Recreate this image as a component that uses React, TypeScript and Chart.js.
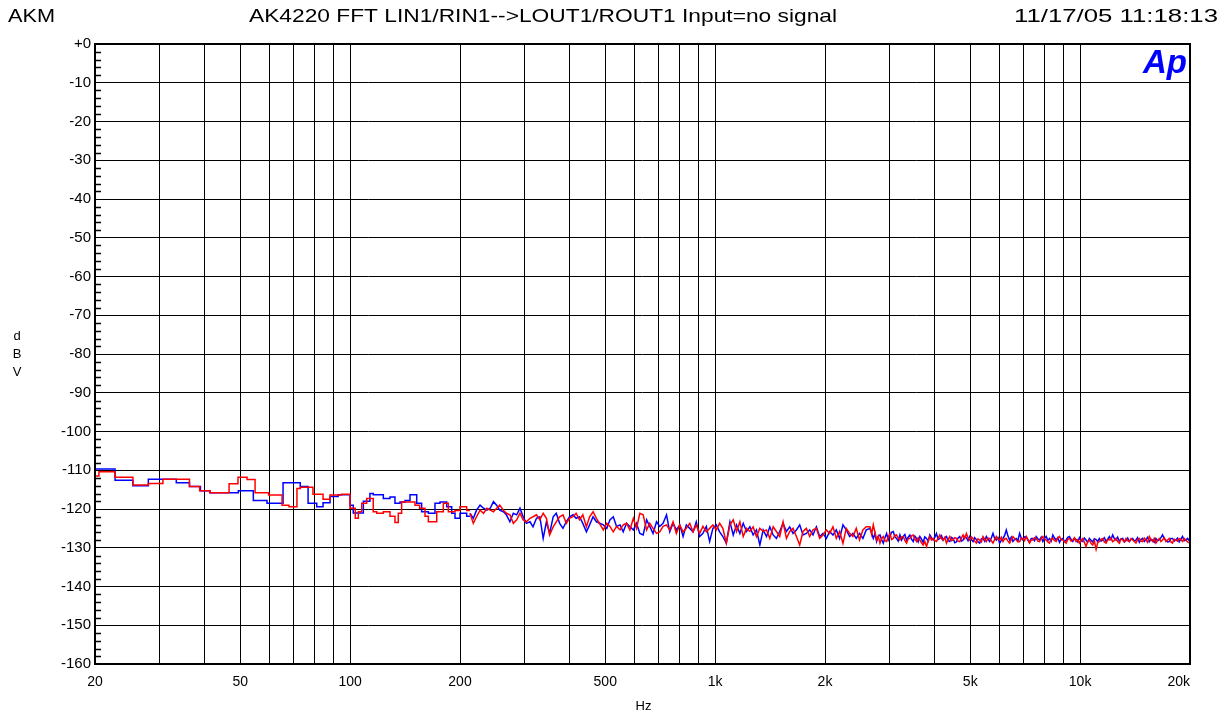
import { useEffect, useRef } from 'react';
import { Chart, registerables } from 'chart.js';

Chart.register(...registerables);

const titleLeft = 'AKM';
const titleMain = 'AK4220 FFT LIN1/RIN1-->LOUT1/ROUT1 Input=no signal';
const titleRight = '11/17/05 11:18:13';
const yAxisLetters = ['d', 'B', 'V'];
const xAxisTitle = 'Hz';
const logoText = 'Ap';

const xGridValues = [20, 30, 40, 50, 60, 70, 80, 90, 100, 200, 300, 400, 500, 600, 700, 800, 900, 1000, 2000, 3000, 4000, 5000, 6000, 7000, 8000, 9000, 10000, 20000];
const xLabelValues = [20, 50, 100, 200, 500, 1000, 2000, 5000, 10000, 20000];
const xLabelTexts = ['20', '50', '100', '200', '500', '1k', '2k', '5k', '10k', '20k'];
const yTickValues = [0, -10, -20, -30, -40, -50, -60, -70, -80, -90, -100, -110, -120, -130, -140, -150, -160];
const yMinorValues = [-2, -4, -6, -8, -12, -14, -16, -18, -22, -24, -26, -28, -32, -34, -36, -38, -42, -44, -46, -48, -52, -54, -56, -58, -62, -64, -66, -68, -72, -74, -76, -78, -82, -84, -86, -88, -92, -94, -96, -98, -102, -104, -106, -108, -112, -114, -116, -118, -122, -124, -126, -128, -132, -134, -136, -138, -142, -144, -146, -148, -152, -154, -156, -158];

// Low-frequency part (level start frequencies, stepped)
const blueLowFreq = [20, 22.7, 25.4, 28.0, 33.4, 36.3, 38.9, 41.3, 49.4, 54.3, 59.2, 65.5, 73.0, 76.7, 81, 84.3, 88.1, 92.7, 100, 102, 108.7, 113.3, 115.7, 123.3, 128.6, 132.7, 137, 141.4, 145.9, 152.2, 157, 163.8, 170.8, 176.3, 183.9, 189.8, 193.8, 200, 208.6, 213];
const blueLowDb = [-109.7, -112.6, -114.0, -112.3, -113.2, -114.2, -115.3, -115.8, -115.3, -117.8, -118.5, -113.2, -114.2, -118.5, -119.4, -118.4, -116.8, -116.3, -119.0, -121.0, -118.0, -116.0, -116.3, -117.3, -116.9, -118.5, -118.2, -117.8, -116.3, -118.5, -120.7, -121.1, -118.5, -118.2, -119.4, -121.1, -122.4, -121.1, -121.9, -121.9];

const redLowFreq = [20, 20.5, 22.7, 25.4, 28.0, 30.7, 36.3, 38.7, 41.3, 46.6, 49.3, 52.2, 54.9, 59.8, 65.1, 68.0, 71.5, 73.0, 79.1, 84.3, 88.1, 94.7, 99.9, 103.3, 105.3, 107.6, 111, 115.7, 118.3, 123.3, 128.6, 132.7, 135.5, 138.4, 150.6, 155, 160.4, 163.8, 172.7, 180, 185.8, 193.8, 200, 208.6, 213];
const redLowDb = [-111.5, -110.4, -111.8, -113.8, -113.4, -112.3, -114.2, -115.3, -115.8, -113.5, -111.8, -112.4, -115.8, -116.4, -119.0, -119.4, -114.7, -114.4, -116.2, -117.5, -116.4, -116.2, -119.8, -122.4, -120.7, -118.5, -117.3, -120.7, -121.1, -120.7, -121.9, -123.5, -121.1, -118.2, -119.0, -119.8, -121.9, -123.3, -120.7, -118.5, -120.7, -120.4, -119.4, -120.4, -120.4];

// Mid-frequency noisy part, 213 Hz .. 2.6 kHz (shared frequencies)
const midFreq = [
  213, 217.5, 222, 227, 232, 237, 242, 247, 252, 257, 263, 268, 274, 280, 286, 292, 298, 304, 311, 317, 324, 331, 338, 345, 352, 360, 367, 375, 383, 391, 399, 408, 416, 425, 434, 444, 453, 463, 473,
  494, 505, 515, 526, 537, 549, 560, 572, 584, 597, 609, 622, 635, 649, 662, 676, 691, 705, 720, 736, 751, 767, 783, 800, 817, 834, 852, 870, 888, 907, 926, 946, 966, 986, 1007, 1029, 1050, 1073,
  1098, 1121, 1145, 1169, 1194, 1219, 1245, 1271, 1298, 1326, 1354, 1383, 1412, 1442, 1472, 1503, 1535, 1568, 1601, 1635, 1670, 1705, 1741, 1778, 1816, 1854, 1894, 1934, 1975, 2017, 2059, 2103, 2148, 2193, 2240, 2287, 2336, 2385, 2436, 2487, 2540, 2594,
];

const blueMidDb = [
  -121.1, -122.4, -120.3, -119.0, -119.8, -120.3, -119.8, -118.1, -119.0, -120.3, -120.7, -121.5, -123.3, -121.1, -121.5, -119.8, -122.0, -123.7, -123.3, -124.6, -122.4, -122.0, -127.6, -123.3, -126.3, -122.0, -121.1, -123.7, -125.0, -123.3, -122.0, -121.5, -122.4, -122.0, -123.7, -125.9, -124.1, -122.0, -123.3,
  -124.1, -125.0, -122.8, -122.0, -124.5, -124.1, -125.9, -123.7, -124.5, -125.4, -123.7, -126.3, -126.7, -122.8, -124.5, -126.3, -123.3, -124.5, -123.7, -121.5, -125.9, -123.7, -125.4, -124.1, -127.1, -124.1, -125.0, -125.9, -123.3, -127.1, -126.3, -124.5, -128.4, -125.0, -124.1, -125.9, -127.1, -128.8,
  -123.3, -126.7, -124.1, -126.3, -123.7, -125.8, -124.6, -126.7, -125.4, -129.3, -125.4, -127.1, -124.6, -126.7, -127.6, -125.8, -123.7, -125.8, -124.6, -126.3, -125.4, -124.1, -126.7, -126.3, -125.4, -126.7, -124.6, -127.1, -126.3, -127.6, -125.8, -126.7, -125.4, -127.6, -124.1, -125.4, -127.1, -126.3, -127.6, -126.3, -127.6, -125.4,
];

const redMidDb = [
  -121.1, -123.7, -122.0, -120.3, -121.1, -119.8, -120.3, -120.7, -119.8, -119.0, -120.3, -121.1, -121.5, -123.7, -122.8, -121.1, -122.8, -123.3, -122.4, -122.0, -121.5, -122.8, -121.1, -122.4, -126.7, -124.6, -123.3, -122.0, -121.5, -123.7, -122.4, -122.0, -121.1, -122.8, -121.5, -124.6, -122.0, -120.7, -122.4,
  -125.4, -123.7, -124.5, -125.9, -124.5, -125.4, -124.1, -123.7, -125.4, -122.4, -125.0, -121.1, -121.5, -125.4, -123.7, -125.0, -126.3, -125.9, -124.5, -124.1, -125.4, -123.3, -126.3, -124.1, -125.9, -125.0, -123.7, -125.9, -124.1, -126.3, -124.5, -125.9, -125.0, -124.1, -125.4, -123.7, -125.0, -128.8,
  -124.1, -122.8, -125.8, -123.3, -127.1, -125.0, -125.8, -124.6, -127.1, -125.0, -125.8, -125.4, -127.6, -124.6, -125.8, -127.1, -123.3, -127.6, -125.8, -125.0, -127.1, -129.3, -125.8, -125.0, -127.1, -125.4, -125.0, -127.6, -126.7, -125.4, -126.3, -124.6, -127.6, -125.8, -128.9, -125.0, -126.3, -127.1, -125.0, -128.0, -125.4, -124.6,
];

// High-frequency noisy part, 2.66 kHz .. 20 kHz (shared frequencies)
const highFreq = [
  2656, 2684, 2712, 2741, 2770, 2799, 2829, 2859, 2889, 2919, 2950, 2981, 3012, 3044, 3076, 3108, 3141, 3174, 3208, 3242,
  3276, 3310, 3345, 3381, 3416, 3452, 3489, 3526, 3563, 3600, 3638, 3677, 3715, 3754, 3794, 3834, 3874, 3915, 3957, 3998,
  4040, 4083, 4126, 4170, 4213, 4258, 4303, 4348, 4394, 4440, 4487, 4534, 4582, 4630, 4679, 4729, 4778, 4829, 4880, 4931,
  4983, 5036, 5089, 5142, 5197, 5251, 5307, 5363, 5419, 5476, 5534, 5593, 5652, 5711, 5771, 5832, 5894, 5956, 6019, 6082,
  6146, 6211, 6276, 6343, 6409, 6477, 6545, 6614, 6684, 6755, 6826, 6898, 6970, 7044, 7118, 7193, 7269, 7346, 7423, 7501,
  7580, 7660, 7741, 7823, 7905, 7989, 8073, 8158, 8244, 8331, 8419, 8508, 8597, 8688, 8779, 8872, 8965, 9060, 9155, 9252,
  9350, 9448, 9548, 9649, 9750, 9853, 9957, 10060, 10170, 10270, 10380, 10490, 10600, 10720, 10830, 10940, 11060, 11170, 11290, 11410,
  11530, 11650, 11780, 11900, 12030, 12150, 12280, 12410, 12540, 12670, 12810, 12940, 13080, 13220, 13360, 13500, 13640, 13790, 13930, 14080,
  14220, 14370, 14530, 14680, 14830, 14990, 15150, 15310, 15470, 15630, 15800, 15960, 16130, 16300, 16470, 16650, 16820, 17000, 17180, 17360,
  17540, 17730, 17910, 18100, 18290, 18490, 18680, 18880, 19080, 19280, 19480, 19690, 20000,
];

const blueHighDb = [
  -125.0, -126.2, -127.6, -126.4, -128.4, -127.0, -126.7, -127.9, -128.8, -127.4, -126.3, -128.0, -127.1, -126.0, -125.8, -127.2, -127.6, -128.3, -126.7, -128.0,
  -127.1, -126.6, -128.0, -127.3, -126.7, -127.8, -128.4, -127.0, -127.6, -128.5, -127.1, -127.8, -128.6, -127.2, -127.6, -128.3, -126.7, -127.4, -128.0, -127.3,
  -126.3, -127.9, -127.6, -126.9, -128.1, -127.4, -127.1, -128.2, -128.4, -127.3, -127.6, -128.7, -128.5, -127.5, -127.1, -128.3, -128.0, -127.1, -127.4, -128.2,
  -127.1, -127.9, -128.4, -127.4, -127.9, -128.5, -128.8, -127.7, -127.6, -128.3, -127.1, -127.8, -128.4, -127.5, -126.3, -127.6, -128.0, -127.4, -128.8, -128.1,
  -127.6, -126.8, -125.4, -127.0, -128.0, -127.3, -128.4, -127.8, -127.6, -128.2, -126.3, -127.5, -128.0, -127.2, -127.1, -128.0, -128.6, -127.6, -127.6, -128.2,
  -127.1, -127.7, -128.0, -127.3, -128.4, -127.6, -127.1, -128.1, -127.6, -128.3, -126.7, -127.5, -128.0, -127.4, -128.6, -127.8, -127.6, -128.4, -128.0, -127.3,
  -127.1, -127.9, -128.4, -127.6, -127.9, -128.5, -127.4, -128.2, -128.4, -127.5, -128.0, -128.6, -127.6, -128.1, -128.5, -127.7, -127.9, -128.4, -127.6, -128.3,
  -128.0, -127.4, -128.4, -127.8, -127.1, -127.9, -126.7, -127.6, -128.0, -127.3, -128.4, -127.7, -127.6, -128.5, -128.1, -127.5, -128.4, -127.8, -127.6, -128.3,
  -128.0, -127.4, -128.6, -127.9, -127.6, -128.4, -127.9, -127.3, -128.4, -127.8, -128.0, -128.6, -127.6, -128.2, -128.0, -127.4, -126.7, -127.7, -128.0, -128.5,
  -128.4, -127.6, -127.6, -128.3, -128.0, -127.5, -128.5, -127.8, -127.1, -128.2, -128.0, -127.6, -128.4,
];

const redHighDb = [
  -124.6, -126.5, -124.1, -126.0, -128.0, -127.0, -128.8, -127.6, -127.1, -128.2, -128.4, -127.3, -126.3, -127.9, -127.6, -126.8, -126.7, -127.5, -128.0, -127.2,
  -127.1, -128.1, -128.8, -127.7, -127.6, -126.9, -126.7, -127.8, -128.4, -127.4, -128.0, -128.7, -129.3, -128.4, -129.7, -128.3, -127.1, -128.0, -127.6, -128.2,
  -128.4, -127.5, -126.7, -127.7, -128.0, -127.3, -128.8, -127.9, -127.1, -128.2, -128.0, -127.4, -127.6, -128.3, -128.4, -127.5, -126.7, -127.6, -126.3, -127.4,
  -128.0, -127.2, -127.6, -128.3, -128.8, -127.7, -128.0, -128.5, -127.1, -127.8, -128.4, -127.5, -127.6, -128.2, -128.8, -127.9, -127.1, -127.8, -128.0, -127.3,
  -128.4, -127.7, -127.6, -128.3, -128.8, -127.9, -127.1, -127.6, -128.0, -128.5, -128.4, -127.5, -127.6, -128.2, -127.1, -127.9, -128.8, -128.0, -128.0, -127.4,
  -127.6, -128.3, -128.4, -127.6, -127.1, -127.8, -128.0, -128.5, -128.8, -127.7, -127.6, -128.2, -128.4, -127.5, -127.1, -127.9, -128.0, -128.4, -128.8, -127.8,
  -127.6, -128.3, -128.0, -127.4, -128.4, -127.9, -128.8, -128.0, -127.6, -128.6, -129.7, -128.4, -128.0, -128.9, -129.3, -128.2, -130.4, -128.7, -128.4, -127.8,
  -127.6, -128.5, -128.8, -127.9, -128.0, -127.5, -128.4, -128.1, -127.6, -128.4, -128.8, -127.7, -128.0, -128.5, -127.6, -128.2, -128.4, -127.6, -128.0, -128.4,
  -128.8, -127.9, -127.6, -128.3, -128.4, -127.5, -128.0, -128.6, -127.1, -127.9, -128.4, -127.6, -128.8, -128.1, -127.6, -128.4, -128.0, -127.4, -128.4, -128.0,
  -127.6, -128.5, -128.8, -127.8, -128.0, -128.3, -127.6, -127.9, -128.4, -127.6, -128.0, -128.5, -128.8,
];

const BLUE = '#0000ff';
const RED = '#ff0000';
const FONT = '"Liberation Sans", Arial, sans-serif';

function pairs(xs: number[], ys: number[]) {
  return xs.map((x, i) => ({ x, y: ys[i] }));
}

function fitText(ctx: CanvasRenderingContext2D, text: string, x0: number, x1: number, y: number) {
  const w = ctx.measureText(text).width;
  const sx = (x1 - x0) / w;
  ctx.save();
  ctx.translate(x0, y);
  ctx.scale(sx, 1);
  ctx.textAlign = 'left';
  ctx.fillText(text, 0, 0);
  ctx.restore();
}

const decorPlugin = {
  id: 'apDecor',
  afterDatasetsDraw(chart: any) {
    const { ctx, chartArea } = chart;
    const yScale = chart.scales.y;
    ctx.save();
    ctx.strokeStyle = '#000';
    ctx.lineWidth = 1.5;
    ctx.beginPath();
    for (const v of yMinorValues) {
      const py = Math.round(yScale.getPixelForValue(v)) + 0.5;
      ctx.moveTo(chartArea.left, py);
      ctx.lineTo(chartArea.left + 6, py);
    }
    ctx.stroke();
    ctx.lineWidth = 2;
    ctx.strokeRect(chartArea.left, chartArea.top, chartArea.right - chartArea.left, chartArea.bottom - chartArea.top);
    ctx.fillStyle = BLUE;
    ctx.font = 'italic bold 33px ' + FONT;
    ctx.textAlign = 'right';
    ctx.textBaseline = 'alphabetic';
    ctx.fillText(logoText, chartArea.right - 3, chartArea.top + 29);
    ctx.restore();
  },
  afterDraw(chart: any) {
    const { ctx, chartArea } = chart;
    const xScale = chart.scales.x;
    ctx.save();
    ctx.fillStyle = '#000';
    ctx.textBaseline = 'middle';
    ctx.font = '19px ' + FONT;
    fitText(ctx, titleLeft, 8, 55, 17);
    fitText(ctx, titleMain, 249, 837, 17);
    fitText(ctx, titleRight, 1014, 1218, 17);
    ctx.font = '14px ' + FONT;
    xLabelValues.forEach((v, i) => {
      const px = xScale.getPixelForValue(v);
      const last = i === xLabelValues.length - 1;
      ctx.textAlign = last ? 'right' : 'center';
      ctx.fillText(xLabelTexts[i], last ? chartArea.right : px, chartArea.bottom + 18);
    });
    ctx.font = '13px ' + FONT;
    ctx.textAlign = 'center';
    ctx.fillText(xAxisTitle, (chartArea.left + chartArea.right) / 2 + 1, 706);
    yAxisLetters.forEach((l, i) => {
      ctx.fillText(l, 17, 336 + i * 18);
    });
    ctx.restore();
  },
};

export default function App() {
  const ref = useRef<HTMLCanvasElement | null>(null);
  useEffect(() => {
    if (!ref.current) return;
    const chart = new Chart(ref.current, {
      type: 'line',
      data: {
        datasets: [
          { data: pairs(redLowFreq, redLowDb), borderColor: RED, borderWidth: 1.5, pointRadius: 0, stepped: 'before', fill: false },
          { data: pairs(midFreq.concat(highFreq), redMidDb.concat(redHighDb)), borderColor: RED, borderWidth: 1.5, pointRadius: 0, fill: false },
          { data: pairs(blueLowFreq, blueLowDb), borderColor: BLUE, borderWidth: 1.5, pointRadius: 0, stepped: 'before', fill: false },
          { data: pairs(midFreq.concat(highFreq), blueMidDb.concat(blueHighDb)), borderColor: BLUE, borderWidth: 1.5, pointRadius: 0, fill: false },
        ],
      },
      options: {
        animation: false,
        responsive: false,
        events: [],
        layout: { padding: { left: 0, top: 44, right: 38, bottom: 0 } },
        plugins: { legend: { display: false }, tooltip: { enabled: false }, title: { display: false } },
        scales: {
          x: {
            type: 'logarithmic',
            min: 20,
            max: 20000,
            afterBuildTicks: (s: any) => { s.ticks = xGridValues.map((v) => ({ value: v })); },
            afterFit: (s: any) => { s.height = 55; },
            ticks: { display: false },
            grid: { color: '#000', lineWidth: 1, drawTicks: false },
            border: { display: false },
          },
          y: {
            min: -160,
            max: 0,
            afterBuildTicks: (s: any) => { s.ticks = yTickValues.map((v) => ({ value: v })); },
            afterFit: (s: any) => { s.width = 95; },
            ticks: {
              autoSkip: false,
              padding: 4,
              color: '#000',
              font: { family: FONT, size: 15 },
              callback: (v: any) => (Number(v) === 0 ? '+0' : String(v)),
            },
            grid: { color: '#000', lineWidth: 1, drawTicks: false },
            border: { display: false },
          },
        },
      },
      plugins: [decorPlugin],
    });
    return () => chart.destroy();
  }, []);
  return (
    <div style={{ position: 'fixed', left: 0, top: 0, width: 1228, height: 719, background: '#fff' }}>
      <canvas ref={ref} width={1228} height={719} style={{ width: 1228, height: 719, display: 'block' }} />
    </div>
  );
}
